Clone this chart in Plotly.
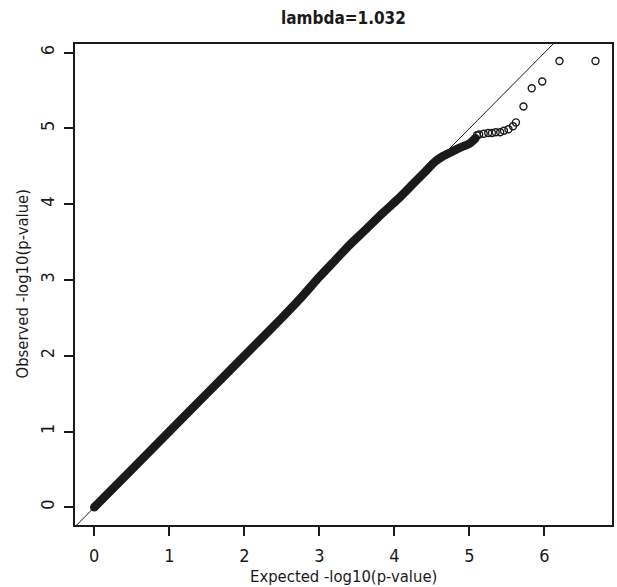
import plotly.graph_objects as go

# Dense part of the QQ curve (expected vs observed -log10 p), traced along its centre
band_expected = [0.00, 0.50, 1.00, 1.50, 2.00, 2.50, 2.75, 3.00, 3.20, 3.40, 3.60, 3.85,
                 4.05, 4.25, 4.42, 4.54, 4.64, 4.74, 4.86, 5.00, 5.08]
band_observed = [0.00, 0.50, 1.00, 1.50, 2.00, 2.50, 2.76, 3.04, 3.25, 3.46, 3.65, 3.89,
                 4.07, 4.27, 4.44, 4.56, 4.63, 4.68, 4.74, 4.80, 4.87]

# Individually visible points in the upper tail
tail_expected = [5.10, 5.13, 5.19, 5.25, 5.30, 5.35, 5.41, 5.46, 5.52, 5.58,
                 5.62, 5.72, 5.83, 5.97, 6.20, 6.68]
tail_observed = [4.91, 4.92, 4.93, 4.94, 4.94, 4.95, 4.95, 4.97, 4.99, 5.03,
                 5.08, 5.29, 5.53, 5.62, 5.89, 5.89]

x_ticks = [0, 1, 2, 3, 4, 5, 6]
y_ticks = [0, 1, 2, 3, 4, 5, 6]
x_range = [-0.257, 6.90]
y_range = [-0.234, 6.115]

title_text = "lambda=1.032"
x_title = "Expected -log10(p-value)"
y_title = "Observed -log10(p-value)"

FONT = "Liberation Sans Narrow, DejaVu Sans Condensed, Arial Narrow, Liberation Sans, sans-serif"
INK = "#1a1a1a"

fig = go.Figure()

# reference line y = x
fig.add_trace(go.Scatter(
    x=[x_range[0], x_range[1]], y=[x_range[0], x_range[1]],
    mode="lines", line=dict(color=INK, width=1), hoverinfo="skip"))

# overlapping circles of the bulk form a solid band
fig.add_trace(go.Scatter(
    x=band_expected, y=band_observed, mode="lines",
    line=dict(color=INK, width=8.5, shape="spline", smoothing=0.6)))
fig.add_trace(go.Scatter(
    x=[band_expected[0], band_expected[-1]], y=[band_observed[0], band_observed[-1]],
    mode="markers", marker=dict(symbol="circle", size=8.5, color=INK)))

fig.add_trace(go.Scatter(
    x=tail_expected, y=tail_observed, mode="markers",
    marker=dict(symbol="circle-open", size=7, color=INK, line=dict(width=1.4, color=INK))))

axis_common = dict(
    showgrid=False, zeroline=False, showline=True, mirror=True,
    linecolor=INK, linewidth=1.5, ticks="outside", ticklen=9, tickwidth=1.5,
    tickcolor=INK, tickfont=dict(family=FONT, size=18, color=INK))

fig.update_xaxes(range=x_range, tickvals=x_ticks, ticktext=[str(v) for v in x_ticks],
                 ticklabelstandoff=5, **axis_common)
fig.update_yaxes(range=y_range, tickvals=y_ticks, ticktext=[str(v) for v in y_ticks],
                 tickangle=-90, ticklabelstandoff=3, **axis_common)

fig.update_layout(
    width=617, height=587, showlegend=False,
    paper_bgcolor="white", plot_bgcolor="white",
    margin=dict(l=75, r=3, t=44, b=62),
    font=dict(family=FONT, color=INK),
    annotations=[
        dict(text="<b>" + title_text + "</b>", xref="paper", yref="paper",
             x=0.5, y=1, yshift=26, xanchor="center", yanchor="middle", showarrow=False,
             font=dict(family=FONT, size=17, color=INK)),
        dict(text=x_title, xref="paper", yref="paper", x=0.5, y=0, yshift=-51,
             xanchor="center", yanchor="middle",
             showarrow=False, font=dict(family=FONT, size=16.5, color=INK)),
        dict(text=y_title, xref="paper", yref="paper", x=0, y=0.5, xshift=-53,
             xanchor="center", yanchor="middle",
             textangle=-90, showarrow=False, font=dict(family=FONT, size=16.5, color=INK)),
    ],
)

fig.write_html("out.html")
